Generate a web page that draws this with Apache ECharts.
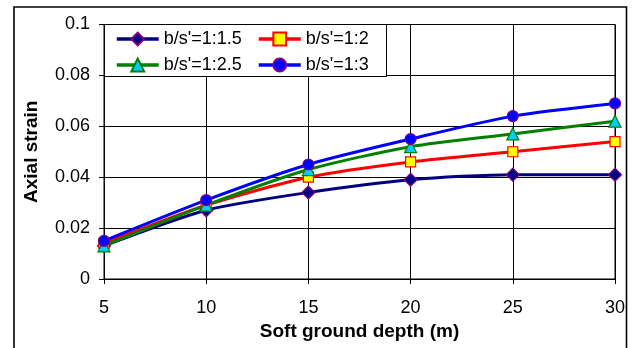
<!DOCTYPE html>
<html><head><meta charset="utf-8">
<script src="https://cdn.jsdelivr.net/npm/echarts@6/dist/echarts.min.js"></script>
<style>html,body{margin:0;padding:0;background:#fff}#c{width:634px;height:348px}</style>
</head><body><div id="c"></div>
<script>
var depths = [5, 10, 15, 20, 25, 30];
var names = ["b/s'=1:1.5", "b/s'=1:2", "b/s'=1:2.5", "b/s'=1:3"];
var s15 = [0.013, 0.027, 0.034, 0.039, 0.041, 0.041];
var s2 = [0.014, 0.029, 0.040, 0.046, 0.050, 0.054];
var s25 = [0.013, 0.029, 0.043, 0.052, 0.057, 0.062];
var s3 = [0.015, 0.031, 0.045, 0.055, 0.064, 0.069];
var yTicks = {min: 0, max: 0.1, interval: 0.02};
var xTicks = {min: 5, max: 30, interval: 5};

function pairs(v){ return depths.map(function(d,i){ return [d, v[i]]; }); }
var font = 'Liberation Sans, Arial, sans-serif';
var chart = echarts.init(document.getElementById('c'), null, {renderer:'canvas'});
function ser(name, data, color, symbol, size, fill, border){
  return {name:name, type:'line', data:pairs(data), smooth:0.25, symbol:symbol, symbolSize:size,
    lineStyle:{color:color, width:3}, itemStyle:{color:fill, borderColor:border, borderWidth:1.2},
    emphasis:{disabled:true}, z:2};
}
var legText = {fontFamily:font, fontSize:18, color:'#000', lineHeight:18};
chart.setOption({
  animation:false,
  grid:{left:104, right:19, top:24.5, bottom:69, show:true, borderColor:'#000', borderWidth:1},
  xAxis:{type:'value', min:xTicks.min, max:xTicks.max, interval:xTicks.interval,
    name:'Soft ground depth (m)', nameLocation:'middle', nameGap:43,
    nameTextStyle:{fontFamily:font, fontSize:19, fontWeight:'bold', color:'#000'},
    axisLine:{lineStyle:{color:'#000', width:1}},
    axisTick:{show:true, inside:false, length:5, lineStyle:{color:'#000'}},
    axisLabel:{fontFamily:font, fontSize:18, color:'#000', margin:20},
    splitLine:{show:true, lineStyle:{color:'#000', width:1}}},
  yAxis:{type:'value', min:yTicks.min, max:yTicks.max, interval:yTicks.interval,
    name:'Axial strain', nameLocation:'middle', nameGap:63,
    nameTextStyle:{fontFamily:font, fontSize:19, fontWeight:'bold', color:'#000'},
    axisLine:{show:true, lineStyle:{color:'#000', width:1}},
    axisTick:{show:true, inside:false, length:5, lineStyle:{color:'#000'}},
    axisLabel:{fontFamily:font, fontSize:18, color:'#000', margin:14,
      formatter:function(v){ return v===0?'0':String(+v.toFixed(2)); }},
    splitLine:{show:true, lineStyle:{color:'#000', width:1}}},
  legend:[
    {data:[names[0], names[2]], orient:'vertical', left:115, top:30, padding:0, itemGap:8,
     itemWidth:42, itemHeight:16, lineStyle:{width:3.5}, textStyle:legText, z:6},
    {data:[names[1], names[3]], orient:'vertical', left:257, top:30, padding:0, itemGap:8,
     itemWidth:42, itemHeight:16, lineStyle:{width:3.5}, textStyle:legText, z:6}
  ],
  graphic:[
    {type:'rect', shape:{x:104.5, y:24.5, width:282, height:52}, style:{fill:'#fff', stroke:'#000', lineWidth:1}, z:5},
    {type:'rect', shape:{x:14, y:7, width:612.5, height:400}, style:{fill:'none', stroke:'#000', lineWidth:1.6}, z:5}
  ],
  series:[
    ser(names[0], s15, '#000080', 'diamond', 13, '#000080', '#800080'),
    ser(names[1], s2, '#ff0000', 'rect', 10, '#ffff00', '#ff0000'),
    ser(names[2], s25, '#008000', 'triangle', 12, '#00ccff', '#008000'),
    ser(names[3], s3, '#0000ff', 'circle', 11, '#0000ff', '#800080')
  ]
});
</script></body></html>
